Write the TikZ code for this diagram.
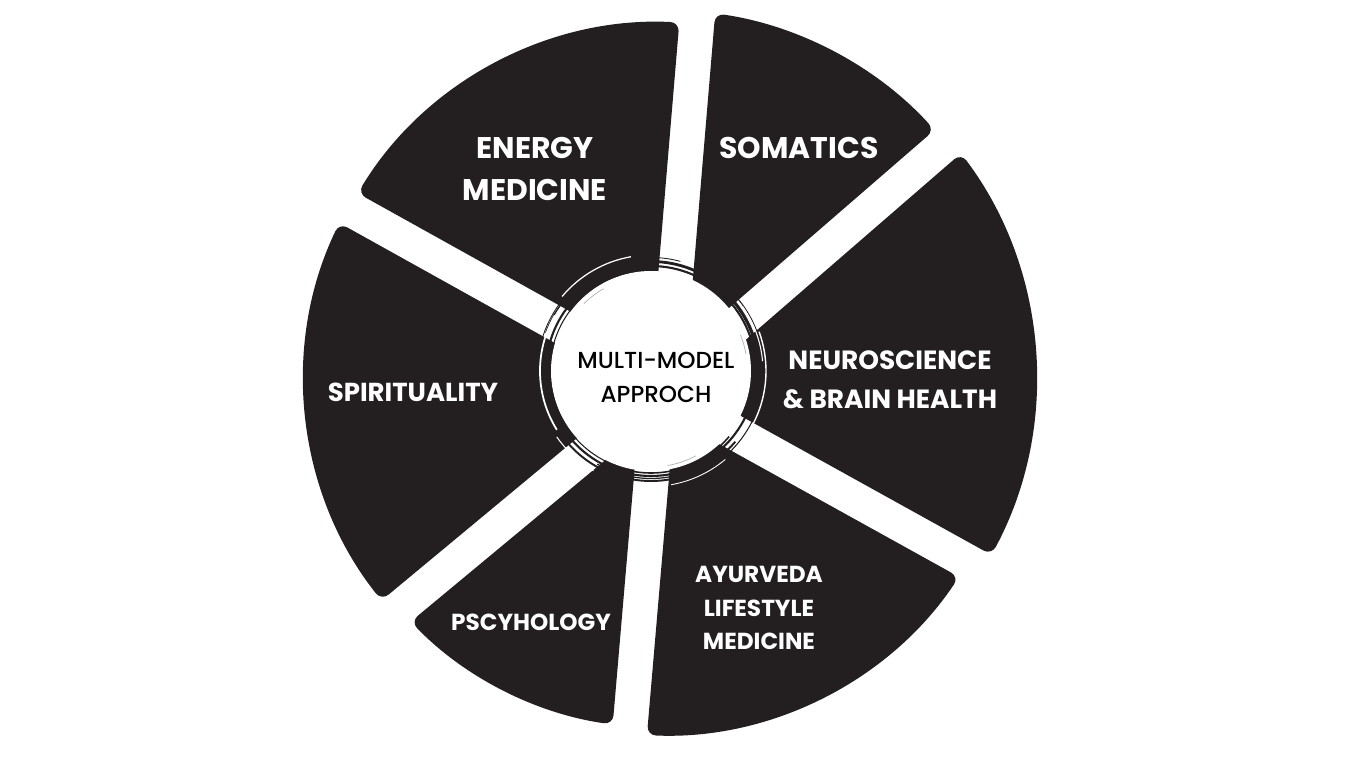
\documentclass[tikz,border=0pt]{standalone}
\usepackage{fontspec}
\usepackage{tikz}
\newfontfamily\labelfont{Poppins}
\newfontfamily\hubfont{Poppins Medium}
\definecolor{slicegray}{RGB}{35,31,32}
\def\gap{0.35}
\def\drawslice#1#2#3#4#5{\fill[slicegray, rounded corners=0.18cm] ({#1+asin((#2+\gap)/1.6)}:1.6) -- ({#1+asin((#2+\gap)/#5)}:#5) arc[start angle={#1+asin((#2+\gap)/#5)}, end angle={#3-asin((\gap-#4)/#5)}, radius=#5] -- ({#3-asin((\gap-#4)/1.6)}:1.6) -- cycle;}
\def\slicelabel{\node[text=white, align=center]}
\def\drawbrush{\draw[slicegray]}
\def\drawstreak{\draw[white]}

\begin{document}
\begin{tikzpicture}
\useasboundingbox (-13.24,-7.8) rectangle (14.08,7.56);
\drawslice{40.9}{-0.17}{85.2}{-0.1}{7.37}
\drawslice{85.2}{-0.1}{150.9}{0.08}{7.12}
\drawslice{150.9}{0.08}{219.7}{0.19}{7.16}
\drawslice{219.7}{0.19}{265.1}{-0.04}{7.0}
\drawslice{265.1}{-0.04}{331.0}{-0.25}{7.15}
\drawslice{331.0}{-0.25}{400.9}{-0.17}{7.48}
\slicelabel[font=\labelfont\bfseries\fontsize{17}{23.8}\selectfont] (energy) at (-2.54,4.18) {ENERGY\\MEDICINE};
\slicelabel[font=\labelfont\bfseries\fontsize{17}{23.8}\selectfont] (somatics) at (2.74,4.6) {SOMATICS};
\slicelabel[font=\labelfont\bfseries\fontsize{15}{22}\selectfont] (neuro) at (4.56,-0.04) {NEUROSCIENCE\\\&~BRAIN HEALTH};
\slicelabel[font=\labelfont\bfseries\fontsize{14.8}{22}\selectfont] (spirit) at (-4.98,-0.28) {SPIRITUALITY};
\slicelabel[font=\labelfont\bfseries\fontsize{13.2}{19}\selectfont] (psych) at (-2.62,-4.88) {PSCYHOLOGY};
\slicelabel[font=\labelfont\bfseries\fontsize{13.2}{19}\selectfont] (ayur) at (1.94,-4.6) {AYURVEDA\\LIFESTYLE\\MEDICINE};
\coordinate (hub) at (-0.22,0.14);
\fill[white] (hub) circle (2.0);
\drawbrush[line width=1.2pt] (hub) circle (2.1);
\drawbrush[line width=0.6pt] (hub) ++(100:2.02) arc[start angle=100, end angle=250, radius=2.02];
\drawbrush[line width=1.6pt] (hub) ++(55:2.19) arc[start angle=55, end angle=140, radius=2.19];
\drawbrush[line width=1.1pt] (hub) ++(200:2.2) arc[start angle=200, end angle=320, radius=2.2];
\drawbrush[line width=0.6pt] (hub) ++(-70:2.26) arc[start angle=-70, end angle=40, radius=2.26];
\drawbrush[line width=1.8pt] (hub) ++(-15:2.16) arc[start angle=-15, end angle=62, radius=2.16];
\drawbrush[line width=0.7pt] (hub) ++(240:2.15) arc[start angle=240, end angle=300, radius=2.15];
\drawbrush[line width=0.5pt] (hub) ++(75:2.27) arc[start angle=75, end angle=170, radius=2.27];
\drawbrush[line width=0.9pt] (hub) ++(-100:2.04) arc[start angle=-100, end angle=-40, radius=2.04];
\drawbrush[line width=0.8pt] (hub) ++(125:2.24) arc[start angle=125, end angle=160, radius=2.24];
\drawstreak[line width=1pt] (hub) ++(150:2.22) arc[start angle=150, end angle=212, radius=2.22];
\drawstreak[line width=0.8pt] (hub) ++(-30:2.3) arc[start angle=-30, end angle=20, radius=2.3];
\drawstreak[line width=0.6pt] (hub) ++(5:2.24) arc[start angle=5, end angle=35, radius=2.24];
\drawstreak[line width=0.7pt] (hub) ++(100:2.32) arc[start angle=100, end angle=140, radius=2.32];
\drawstreak[line width=0.6pt] (hub) ++(215:2.3) arc[start angle=215, end angle=240, radius=2.3];
\drawstreak[line width=0.5pt] (hub) ++(280:2.31) arc[start angle=280, end angle=310, radius=2.31];
\draw[gray!60, line width=0.4pt] (hub) ++(120:1.9) arc[start angle=120, end angle=135, radius=1.9];
\draw[gray!60, line width=0.4pt] (hub) ++(-80:1.92) arc[start angle=-80, end angle=-62, radius=1.92];
\draw[gray!60, line width=0.4pt] (hub) ++(10:1.93) arc[start angle=10, end angle=22, radius=1.93];
\node[font=\hubfont\fontsize{13.2}{19.3}\selectfont, align=center] (approach) at (-0.12,0.02) {MULTI-MODEL\\APPROCH};
\end{tikzpicture}
\end{document}
